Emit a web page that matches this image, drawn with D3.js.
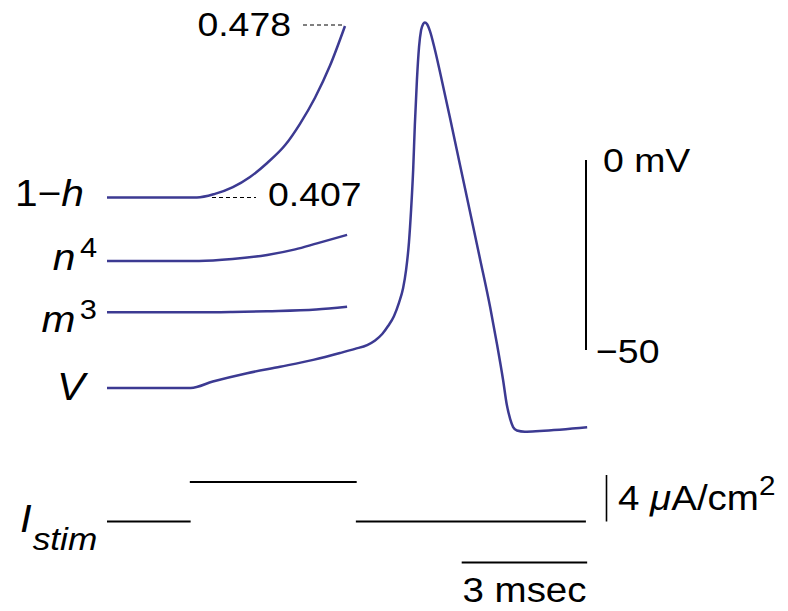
<!DOCTYPE html>
<html>
<head>
<meta charset="utf-8">
<script src="https://cdn.jsdelivr.net/npm/d3@7"></script>
<style>
  body { margin: 0; background: #fff; }
  text { font-family: "Liberation Sans", Arial, sans-serif; fill: #000; }
</style>
</head>
<body>
<script>
// time in msec
const vTime = [0, 2.0, 2.53, 3.35, 4.14, 4.93, 5.57, 5.93, 6.22, 6.41, 6.58, 6.72, 6.86, 6.98, 7.08, 7.15, 7.22, 7.27, 7.32, 7.36, 7.41, 7.46, 7.51, 7.56, 7.60, 7.65, 7.72, 7.84, 7.96, 8.20, 8.44, 8.68, 8.92, 9.16, 9.32, 9.47, 9.56, 9.64, 9.71, 9.80, 9.99, 10.35, 11.48];
const vValues = [-60, -60, -58.3, -56.1, -54.4, -52.6, -50.8, -49.7, -48.7, -47.5, -45.8, -43.7, -41.1, -37.6, -33.7, -29.0, -21.6, -13.2, -2.6, 9.2, 21.1, 29.7, 34.2, 35.8, 36.2, 35.8, 34.0, 29.0, 23.2, 11.1, -1.3, -13.7, -26.1, -38.7, -48.2, -57.9, -64.5, -68.2, -70.3, -71.2, -71.5, -71.3, -70.3];

const hTime = [0, 2.15, 2.58, 3.01, 3.42, 3.83, 4.26, 4.61, 4.97, 5.33, 5.69];
const hValues = [0.407, 0.407, 0.4085, 0.4113, 0.4155, 0.4213, 0.4287, 0.4374, 0.4482, 0.4615, 0.478];

const nTime = [0, 2.2, 3.0, 3.83, 4.5, 5.02, 5.74];
const nValues = [0.0102, 0.0102, 0.0110, 0.0127, 0.0150, 0.0175, 0.0210];

const mTime = [0, 2.2, 3.0, 3.83, 5.0, 5.74];
const mValues = [0.00015, 0.00015, 0.0003, 0.0006, 0.0013, 0.00245];

const stimStart = [0, 1.98, 5.95];
const stimEnd = [2.0, 5.97, 11.45];
const stimLevel = [0, 3.4, 0];

const hMarks = [0.407, 0.478];

const svg = d3.select("body").append("svg")
    .attr("width", 788)
    .attr("height", 611);

const x = d3.scaleLinear().domain([0, 11.5]).range([107, 588]);
const yV = d3.scaleLinear().domain([-50, 0]).range([350, 160]);
const yI = d3.scaleLinear().domain([0, 4]).range([521.5, 475]);

// gating traces share one gain, each with its own baseline
const gain = 0.071;
const yH = d3.scaleLinear().domain([0.407, 0.407 + gain]).range([197.5, 26]);
const yN = d3.scaleLinear().domain([0.0102, 0.0102 + gain]).range([261, 89.5]);
const yM = d3.scaleLinear().domain([0.00015, 0.00015 + gain]).range([312.3, 140.8]);

const blue = "#3c3a92";

function trace(times, values, yScale) {
    const line = d3.line()
        .x(d => x(d[0]))
        .y(d => yScale(d[1]))
        .curve(d3.curveMonotoneX);
    svg.append("path")
        .datum(d3.zip(times, values))
        .attr("d", line)
        .attr("fill", "none")
        .attr("stroke", blue)
        .attr("stroke-width", 2.5)
        .attr("stroke-linejoin", "round");
}

trace(hTime, hValues, yH);
trace(nTime, nValues, yN);
trace(mTime, mValues, yM);
trace(vTime, vValues, yV);

// dashed guides for 1-h
svg.append("line")
    .attr("x1", 303).attr("x2", x(hTime[hTime.length - 1]))
    .attr("y1", yH(hMarks[1]) - 1).attr("y2", yH(hMarks[1]) - 1)
    .attr("stroke", "#000").attr("stroke-width", 1).attr("stroke-dasharray", "4,3");
svg.append("line")
    .attr("x1", 212).attr("x2", 256)
    .attr("y1", yH(hMarks[0])).attr("y2", yH(hMarks[0]))
    .attr("stroke", "#000").attr("stroke-width", 1).attr("stroke-dasharray", "4,3");

// stimulus segments
svg.selectAll(".stim")
    .data(d3.range(stimLevel.length))
    .enter()
    .append("line")
    .attr("class", "stim")
    .attr("x1", i => x(stimStart[i]))
    .attr("x2", i => x(stimEnd[i]))
    .attr("y1", i => yI(stimLevel[i]))
    .attr("y2", i => yI(stimLevel[i]))
    .attr("stroke", "#000")
    .attr("stroke-width", 2);

// scale bars
svg.append("line")
    .attr("x1", 586).attr("x2", 586)
    .attr("y1", yV(0)).attr("y2", yV(-50))
    .attr("stroke", "#000").attr("stroke-width", 2);
svg.append("line")
    .attr("x1", 606.5).attr("x2", 606.5)
    .attr("y1", yI(0)).attr("y2", yI(4))
    .attr("stroke", "#000").attr("stroke-width", 1.6);
svg.append("line")
    .attr("x1", x(8.48)).attr("x2", x(11.48))
    .attr("y1", 562.5).attr("y2", 562.5)
    .attr("stroke", "#000").attr("stroke-width", 2);

function label(px, py, anchor, size) {
    return svg.append("text")
        .attr("transform", `translate(${px},${py}) scale(1.1,1)`)
        .attr("text-anchor", anchor)
        .attr("font-size", size || 34);
}

let t = label(84, 206, "end", 37);
t.append("tspan").text("1\u2212");
t.append("tspan").attr("font-style", "italic").text("h");

t = label(97, 270, "end", 37);
t.append("tspan").attr("font-style", "italic").text("n");
t.append("tspan").attr("font-size", 28).attr("dy", -13).attr("dx", 4).text("4");

t = label(97, 331.5, "end", 37);
t.append("tspan").attr("font-style", "italic").text("m");
t.append("tspan").attr("font-size", 28).attr("dy", -13).attr("dx", 4).text("3");

label(85, 400, "end", 38).attr("font-style", "italic").text("V");

t = label(20, 532, "start", 38).attr("font-style", "italic");
t.append("tspan").text("I");
t.append("tspan").attr("font-size", 32).attr("dy", 18).attr("dx", 1).text("stim");

label(291, 35.5, "end").text("0.478");
label(268, 206, "start").text("0.407");
label(603, 172, "start").text("0 mV");
label(596, 363, "start").text("\u221250");

t = label(618, 509.5, "start", 35);
t.append("tspan").text("4 ");
t.append("tspan").attr("font-style", "italic").text("\u03bc");
t.append("tspan").text("A/cm");
t.append("tspan").attr("font-size", 27).attr("dy", -15).text("2");

label(524.5, 602, "middle", 35).text("3 msec");
</script>
</body>
</html>
